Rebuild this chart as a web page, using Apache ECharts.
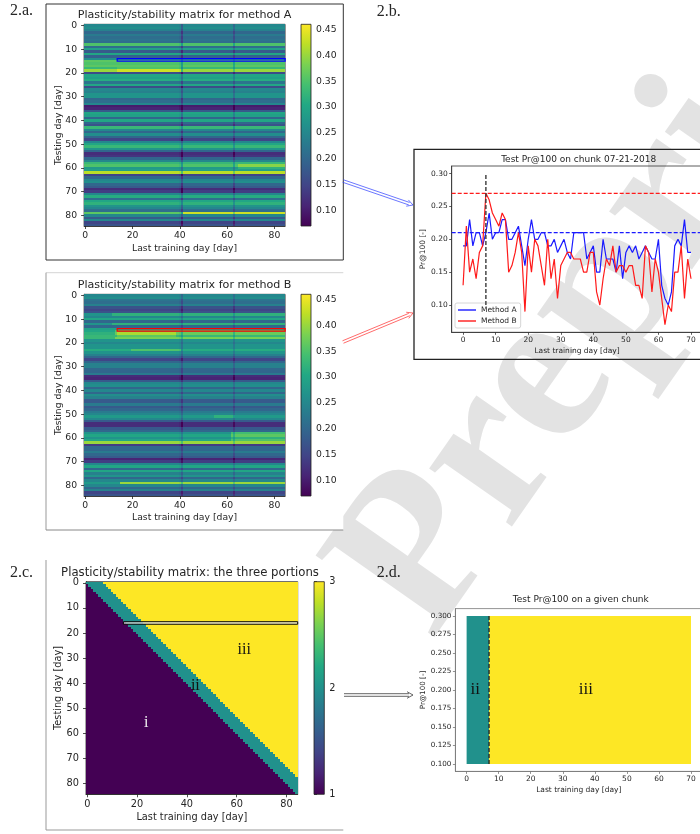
<!DOCTYPE html>
<html><head><meta charset="utf-8">
<script src="https://cdn.jsdelivr.net/npm/echarts@6/dist/echarts.min.js"></script>
<style>html,body{margin:0;padding:0;background:#fff}#c{width:700px;height:834px}</style>
</head><body><div id="c"></div>
<script>
// ---------------- DATA ----------------
const days = []; for (let i = 0; i < 85; i++) days.push(i);          // heatmap categories (days 0..84)
const cbarTicksAB = [0.10, 0.15, 0.20, 0.25, 0.30, 0.35, 0.40, 0.45];
const cbarMinAB = 0.07, cbarMaxAB = 0.46;
const cbarTicksC = [1, 2, 3];

const rowLevelA = [0.25,0.26,0.24,0.20,0.23,0.21,0.22,0.21,0.35,0.21,0.29,0.18,0.30,0.19,0.26,0.36,0.35,0.36,0.33,0.40,0.16,0.30,0.29,0.31,0.22,0.30,0.16,0.25,0.24,0.27,0.27,0.20,0.21,0.25,0.10,0.11,0.18,0.30,0.29,0.20,0.30,0.20,0.17,0.33,0.25,0.20,0.26,0.20,0.15,0.25,0.30,0.33,0.27,0.20,0.12,0.13,0.20,0.25,0.33,0.35,0.28,0.29,0.42,0.15,0.20,0.25,0.26,0.20,0.18,0.12,0.14,0.25,0.31,0.21,0.30,0.32,0.27,0.25,0.21,0.40,0.25,0.18,0.25,0.15,0.17];
const rowLevelB = [0.25,0.26,0.22,0.21,0.24,0.17,0.15,0.17,0.32,0.25,0.30,0.20,0.32,0.20,0.29,0.35,0.37,0.33,0.38,0.27,0.25,0.27,0.27,0.31,0.27,0.24,0.20,0.15,0.20,0.24,0.24,0.20,0.20,0.23,0.12,0.11,0.18,0.25,0.26,0.20,0.25,0.20,0.26,0.24,0.18,0.18,0.23,0.18,0.20,0.23,0.25,0.28,0.25,0.18,0.12,0.12,0.18,0.20,0.27,0.30,0.27,0.30,0.40,0.14,0.20,0.20,0.23,0.20,0.18,0.11,0.14,0.25,0.30,0.20,0.30,0.24,0.27,0.20,0.25,0.40,0.25,0.20,0.24,0.15,0.17];
// per training-day (column) shift (darker columns 41 and 63)
const colShiftA = [0,0,0,0,0,0,0,0,0,0,0,0,0,0,0,0,0,
                   0,0,0,0,0,0,0,0,0,0,0,0,0,0,0,0,0,
                   0,0,0,0,0,0,-0.01,-0.07,0,0,0,0,0,0,0,0,0,
                   0,0,0,0,0,0,0,0,0,0,0,0,-0.05,0,0,0,0,
                   0,0,0,0,0,0,0,0,0,0,0,0,0,0,0,0,0];
const colShiftB = [0,0,0,0,0,0,0,0,0,0,0,0,0,0,0,0,0,
                   0,0,0,0,0,0,0,0,0,0,0,0,0,0,0,0,0,
                   0,0,0,0,0,0,-0.01,-0.05,0,0,0,0,0,0,0,0,0,
                   0,0,0,0,0,0,0,0,0,0,0,0,-0.04,0,0,0,0,
                   0,0,0,0,0,0,0,0,0,0,0,0,0,0,0,0,0];
// local patches: [row, firstCol, lastCol, shift]
const patchesA = [[79,0,41,-0.04],[79,42,84,0.03],[59,65,84,0.04],[60,65,84,0.04],[19,14,40,0.03],[18,14,40,0.02]];
const patchesB = [[79,0,14,-0.12],[58,62,84,0.07],[59,62,84,0.06],[60,62,84,0.05],[61,62,84,0.05],
                  [16,14,38,0.04],[17,14,38,0.03],[51,55,63,0.04],[23,20,40,0.04],
                  [8,0,11,-0.05],[12,0,11,-0.05],[15,0,12,-0.05],[16,0,12,-0.05],[18,0,12,-0.05]];
// chunk rectangles (matplotlib data coordinates)
const chunkA = {x0: 13.5, x1: 84.5, y0: 14, y1: 15};
const chunkC = {x0: 14.5, x1: 84.5, y0: 15.5, y1: 16.5};
// three portions matrix: width of the teal band (days)
const bandWidthC = 7;
const portionLabelsC = [[23.7, 56, 'i', '#f2f2f2'], [43.4, 41, 'ii', '#111'], [63, 26.6, 'iii', '#111']];

// panel 2.b
const lastDay = [];  for (let i = 0; i <= 70; i++) lastDay.push(i);
const methodA = [0.19,0.19,0.23,0.19,0.21,0.21,0.19,0.21,0.24,0.20,0.21,0.21,0.23,0.23,0.20,0.20,0.21,0.22,0.19,0.16,0.20,0.23,0.20,0.20,0.21,0.21,0.19,0.19,0.20,0.18,0.19,0.20,0.18,0.17,0.21,0.21,0.21,0.21,0.17,0.18,0.19,0.15,0.15,0.20,0.17,0.17,0.17,0.15,0.19,0.14,0.18,0.19,0.18,0.19,0.17,0.18,0.19,0.18,0.17,0.17,0.20,0.13,0.11,0.10,0.12,0.19,0.20,0.19,0.23,0.18,0.18];
const methodB = [0.13,0.22,0.15,0.17,0.14,0.18,0.19,0.27,0.26,0.24,0.23,0.22,0.24,0.23,0.15,0.16,0.18,0.21,0.18,0.09,0.19,0.15,0.20,0.19,0.16,0.13,0.20,0.14,0.17,0.11,0.16,0.17,0.18,0.18,0.17,0.17,0.17,0.15,0.15,0.18,0.18,0.12,0.10,0.14,0.17,0.16,0.19,0.15,0.16,0.16,0.15,0.16,0.16,0.13,0.13,0.11,0.19,0.18,0.12,0.17,0.15,0.11,0.07,0.10,0.09,0.15,0.15,0.19,0.11,0.17,0.14];
const bestA = 0.21, bestB = 0.27, splitDay = 7;
const lineXTicks = [0, 10, 20, 30, 40, 50, 60, 70];
const lineYTicks = [0.10, 0.15, 0.20, 0.25, 0.30];
const lineXRange = [-3.5, 73.5], lineYRange = [0.0585, 0.3115];
const vlineRange = [0.10, 0.30];

// panel 2.d: [xStart, yStart, portion, xEnd, yEnd]
const portionsD = [[0, 0.10, 2, 7, 0.30], [7, 0.10, 3, 70, 0.30]];
const portionLabelsD = [[2.7, 0.2, 'ii'], [37.2, 0.2, 'iii']];
const dYTicks = [0.100, 0.125, 0.150, 0.175, 0.200, 0.225, 0.250, 0.275, 0.300];
const dYRange = [0.09, 0.31];

// ---------------- BUILD ----------------
const FONT = 'DejaVu Sans', SERIF = 'Liberation Serif', TXT = '#262626';
const VIRIDIS = ['#440154','#482475','#414487','#355f8d','#2a788e','#21918c','#22a884','#44bf70','#7ad151','#bddf26','#fde725'];

function buildMatrix(rowLevel, colShift, patches) {
  const out = [];
  for (let r = 0; r < 85; r++) for (let c = 0; c < 85; c++) {
    let v = rowLevel[r] + colShift[c];
    for (const p of patches) if (p[0] === r && c >= p[1] && c <= p[2]) v += p[3];
    v = Math.max(cbarMinAB, Math.min(cbarMaxAB, v));
    out.push([c, r, Math.round(v * 1000) / 1000]);
  }
  return out;
}
const heatA = buildMatrix(rowLevelA, colShiftA, patchesA);
const heatB = buildMatrix(rowLevelB, colShiftB, patchesB);
const heatC = [];
for (let r = 0; r < 85; r++) for (let c = 0; c < 85; c++) {
  heatC.push([c, r, c < r ? 1 : (c - r < bandWidthC ? 2 : 3)]);
}

const every = n => (i => i % n === 0);
function heatX(g, fs, gap) {
  return {type:'category', gridIndex:g, data:days, position:'bottom',
    axisLine:{show:true, lineStyle:{color:'#222', width:0.8}},
    axisTick:{show:true, alignWithLabel:true, interval:every(20), length:3, lineStyle:{color:'#222', width:0.8}},
    axisLabel:{interval:every(20), margin:5, fontSize:fs, color:TXT, fontFamily:FONT},
    splitLine:{show:false}, name:'Last training day [day]', nameLocation:'middle', nameGap:gap, nameMoveOverlap:false,
    nameTextStyle:{fontSize:fs, color:TXT, fontFamily:FONT}};
}
function heatY(g, fs, gap) {
  return {type:'category', gridIndex:g, data:days, inverse:true,
    axisLine:{show:true, lineStyle:{color:'#222', width:0.8}},
    axisTick:{show:true, alignWithLabel:true, interval:every(10), length:3, lineStyle:{color:'#222', width:0.8}},
    axisLabel:{interval:every(10), margin:7, fontSize:fs, color:TXT, fontFamily:FONT},
    splitLine:{show:false}, name:'Testing day [day]', nameLocation:'middle', nameGap:gap, nameMoveOverlap:false,
    nameTextStyle:{fontSize:fs, color:TXT, fontFamily:FONT}};
}
function cbarX(g) { return {type:'value', gridIndex:g, min:0, max:1, show:false}; }
function cbarY(g, mn, mx, ticks, fmt, fs) {
  return {type:'value', gridIndex:g, min:mn, max:mx, position:'right',
    axisLine:{show:false}, splitLine:{show:false},
    axisTick:{show:true, length:3, customValues:ticks, lineStyle:{color:'#222', width:0.8}},
    axisLabel:{customValues:ticks, formatter:fmt, margin:5, fontSize:fs, color:TXT, fontFamily:FONT}};
}
function cbarSeries(g, mn, mx) {
  return {type:'custom', xAxisIndex:g, yAxisIndex:g, data:[[0, mn, 1, mx]], encode:{x:[0,2], y:[1,3]}, silent:true,
    renderItem:(p, api) => {
      const a = api.coord([api.value(0), api.value(3)]), b = api.coord([api.value(2), api.value(1)]);
      const stops = VIRIDIS.map((c, i) => ({offset: i / (VIRIDIS.length - 1), color: c}));
      return {type:'rect', shape:{x:a[0], y:a[1], width:b[0]-a[0], height:b[1]-a[1]},
        style:{fill:new echarts.graphic.LinearGradient(0, 1, 0, 0, stops), stroke:'#222', lineWidth:0.8}};
    }};
}
function cellMapper(api) {
  const a = api.coord([0, 0]), b = api.coord([1, 1]);
  return (x, y) => [a[0] + x * (b[0] - a[0]), a[1] + y * (b[1] - a[1])];
}
function chunkSeries(g, spec, stroke, fill, lw) {
  return {type:'custom', xAxisIndex:g, yAxisIndex:g, data:[[0, 0]], silent:true, z:5,
    renderItem:(p, api) => {
      const m = cellMapper(api), p0 = m(spec.x0, spec.y0), p1 = m(spec.x1, spec.y1);
      return {type:'rect', shape:{x:Math.min(p0[0],p1[0]), y:Math.min(p0[1],p1[1]),
        width:Math.abs(p1[0]-p0[0]), height:Math.abs(p1[1]-p0[1])}, style:{fill:fill, stroke:stroke, lineWidth:lw}};
    }};
}
// matrix cells drawn through the category axes; edges snapped to whole pixels (no seams)
function heatSeries(g, data) {
  return {type:'custom', xAxisIndex:g, yAxisIndex:g, data:data, encode:{x:0, y:1}, progressive:0, silent:true,
    renderItem:(p, api) => {
      const q = api.coord([api.value(0), api.value(1)]), s = api.size([1, 1]);
      const x0 = Math.round(q[0] - s[0] / 2), x1 = Math.round(q[0] + s[0] / 2);
      const y0 = Math.round(q[1] - s[1] / 2), y1 = Math.round(q[1] + s[1] / 2);
      return {type:'rect', shape:{x:x0, y:y0, width:x1 - x0, height:y1 - y0},
        style:{fill:api.visual('color'), stroke:null}};
    }};
}
function valAxis(g, rng, ticks, fmt, name, gap, fs, frame, pos) {
  return {type:'value', gridIndex:g, min:rng[0], max:rng[1], position:pos,
    axisLine:{show:true, onZero:false, lineStyle:{color:frame, width:0.8}},
    axisTick:{show:true, length:2.5, customValues:ticks, lineStyle:{color:frame, width:0.8}},
    axisLabel:{customValues:ticks, formatter:fmt, margin:4, fontSize:fs, color:TXT, fontFamily:FONT},
    splitLine:{show:false}, name:name, nameLocation:'middle', nameGap:gap, nameMoveOverlap:false,
    nameTextStyle:{fontSize:fs, color:TXT, fontFamily:FONT}};
}
const f2 = v => v.toFixed(2), f3 = v => v.toFixed(3), f0 = v => String(Math.round(v));

function doubleArrow(x1, y1, x2, y2, color) {
  const dx = x2 - x1, dy = y2 - y1, L = Math.hypot(dx, dy), ux = dx / L, uy = dy / L, nx = -uy, ny = ux;
  const g = 1.3, head = 6, hw = 3.3, bx = x2 - ux * 4, by = y2 - uy * 4;
  const st = {stroke:color, lineWidth:0.7, fill:null};
  return [
    {type:'line', shape:{x1:x1+nx*g, y1:y1+ny*g, x2:bx+nx*g, y2:by+ny*g}, style:st, z:20},
    {type:'line', shape:{x1:x1-nx*g, y1:y1-ny*g, x2:bx-nx*g, y2:by-ny*g}, style:st, z:20},
    {type:'polyline', shape:{points:[[x2-ux*head+nx*hw, y2-uy*head+ny*hw],[x2,y2],[x2-ux*head-nx*hw, y2-uy*head-ny*hw]]}, style:st, z:20}
  ];
}
function label(x, y, text, font, align) {
  return {type:'text', x:x, y:y, z:20, style:{text:text, font:font, fill:TXT, align:align || 'center', verticalAlign:'middle'}};
}

const graphics = [
  {type:'text', x:615, y:280, rotation:55 * Math.PI / 180, z:-3,
    style:{text:'Preprint', font:'bold 220px "' + SERIF + '"', fill:'#e3e3e3', align:'center', verticalAlign:'middle'}},
  {type:'rect', shape:{x:46, y:4, width:297.3, height:256}, style:{fill:'#fff', stroke:'#333', lineWidth:1}, z:-2},
  {type:'rect', shape:{x:46, y:272.7, width:297.3, height:257.3}, style:{fill:'#fff'}, z:-2},
  {type:'line', shape:{x1:46, y1:272.7, x2:343.3, y2:272.7}, style:{stroke:'#d4d4d4', lineWidth:1}, z:-1},
  {type:'line', shape:{x1:46, y1:272.7, x2:46, y2:530}, style:{stroke:'#999', lineWidth:1}, z:-1},
  {type:'line', shape:{x1:46, y1:530, x2:343.3, y2:530}, style:{stroke:'#888', lineWidth:1}, z:-1},
  {type:'rect', shape:{x:46, y:560, width:297.3, height:270}, style:{fill:'#fff'}, z:-2},
  {type:'line', shape:{x1:46, y1:560, x2:46, y2:830}, style:{stroke:'#999', lineWidth:1}, z:-1},
  {type:'line', shape:{x1:46, y1:830, x2:343.3, y2:830}, style:{stroke:'#999', lineWidth:1}, z:-1},
  {type:'rect', shape:{x:414, y:149.3, width:300, height:210}, style:{fill:null, stroke:'#222', lineWidth:1.3}, z:-1},
  label(10, 11, '2.a.', '16px "' + SERIF + '"', 'left'),
  label(376.7, 11.7, '2.b.', '16px "' + SERIF + '"', 'left'),
  label(10, 572.7, '2.c.', '16px "' + SERIF + '"', 'left'),
  label(376.7, 573, '2.d.', '16px "' + SERIF + '"', 'left'),
  label(184.6, 15, 'Plasticity/stability matrix for method A', '11.1px "' + FONT + '"'),
  label(184.6, 285, 'Plasticity/stability matrix for method B', '11.1px "' + FONT + '"'),
  label(190, 572.7, 'Plasticity/stability matrix: the three portions', '11.7px "' + FONT + '"'),
  label(578.7, 159.3, 'Test Pr@100 on chunk 07-21-2018', '9px "' + FONT + '"'),
  label(580.8, 600, 'Test Pr@100 on a given chunk', '9px "' + FONT + '"')
].concat(doubleArrow(343, 181, 413, 205, '#2b3cff'))
 .concat(doubleArrow(343, 342, 413, 313, '#ff2b2b'))
 .concat(doubleArrow(344, 695, 413, 695, '#222'));

const noOB = {outerBoundsMode:'none', containLabel:false};
const option = {
  animation:false,
  backgroundColor:'#fff',
  graphic:{elements:graphics},
  grid:[
    Object.assign({left:84.1, top:24.3, width:201, height:201.7, show:true, borderColor:'#222', borderWidth:0.8}, noOB),
    Object.assign({left:301, top:24.3, width:10, height:201.7}, noOB),
    Object.assign({left:84.1, top:294.3, width:201, height:201.7, show:true, borderColor:'#222', borderWidth:0.8}, noOB),
    Object.assign({left:301, top:294.3, width:10, height:201.7}, noOB),
    Object.assign({left:451.7, top:166, width:250.7, height:166.3, show:true, borderColor:'#333', borderWidth:0.8}, noOB),
    Object.assign({left:86, top:581.7, width:211.7, height:212.6, show:true, borderColor:'#222', borderWidth:0.8}, noOB),
    Object.assign({left:314, top:581.7, width:10.3, height:212.6}, noOB),
    Object.assign({left:455.4, top:608.6, width:246.8, height:162.8, show:true, borderColor:'#777', borderWidth:0.8}, noOB)
  ],
  xAxis:[
    heatX(0, 9.25, 18), cbarX(1), heatX(2, 9.25, 17), cbarX(3),
    valAxis(4, lineXRange, lineXTicks, f0, 'Last training day [day]', 15, 7.5, '#333', 'bottom'),
    heatX(5, 9.75, 18), cbarX(6),
    valAxis(7, lineXRange, lineXTicks, f0, 'Last training day [day]', 15, 7.5, '#777', 'bottom')
  ],
  yAxis:[
    heatY(0, 9.25, 21), cbarY(1, cbarMinAB, cbarMaxAB, cbarTicksAB, f2, 9.25),
    heatY(2, 9.25, 21), cbarY(3, cbarMinAB, cbarMaxAB, cbarTicksAB, f2, 9.25),
    valAxis(4, lineYRange, lineYTicks, f2, 'Pr@100 [-]', 25, 7.5, '#333', 'left'),
    heatY(5, 9.75, 23), cbarY(6, 1, 3, cbarTicksC, f0, 9.75),
    valAxis(7, dYRange, dYTicks, f3, 'Pr@100 [-]', 29, 7.2, '#777', 'left')
  ],
  visualMap:[
    {type:'continuous', show:false, min:cbarMinAB, max:cbarMaxAB, dimension:2, seriesIndex:[0, 3], inRange:{color:VIRIDIS}},
    {type:'continuous', show:false, min:1, max:3, dimension:2, seriesIndex:[11, 15], inRange:{color:VIRIDIS}}
  ],
  legend:{data:[{name:'Method A', icon:'rect'}, {name:'Method B', icon:'rect'}], left:455, top:303, orient:'vertical',
    itemWidth:18, itemHeight:1.4, itemGap:3, padding:[3, 4, 3, 3], borderColor:'#ccc', borderWidth:0.8, borderRadius:2,
    backgroundColor:'rgba(255,255,255,0.8)', textStyle:{fontSize:7.5, color:TXT, fontFamily:FONT}, selectedMode:false},
  series:[
    heatSeries(0, heatA),                                   // 0
    chunkSeries(0, chunkA, '#0000ff', null, 1.3),           // 1
    cbarSeries(1, cbarMinAB, cbarMaxAB),                    // 2
    heatSeries(2, heatB),                                   // 3
    chunkSeries(2, chunkA, '#ff0000', null, 1.3),           // 4
    cbarSeries(3, cbarMinAB, cbarMaxAB),                    // 5
    {type:'line', name:'Method A', xAxisIndex:4, yAxisIndex:4, showSymbol:false, z:4,
      data:lastDay.map((d, i) => [d, methodA[i]]), lineStyle:{color:'#1a1aff', width:1.2}, itemStyle:{color:'#1a1aff'}},   // 6
    {type:'line', name:'Method B', xAxisIndex:4, yAxisIndex:4, showSymbol:false, z:5,
      data:lastDay.map((d, i) => [d, methodB[i]]), lineStyle:{color:'#ff1a1a', width:1.2}, itemStyle:{color:'#ff1a1a'}},   // 7
    {type:'line', name:'best A', xAxisIndex:4, yAxisIndex:4, showSymbol:false, z:3,
      data:[[lineXRange[0], bestA], [lineXRange[1], bestA]], lineStyle:{color:'#1a1aff', width:1.2, type:[4, 2]}},           // 8
    {type:'line', name:'best B', xAxisIndex:4, yAxisIndex:4, showSymbol:false, z:3,
      data:[[lineXRange[0], bestB], [lineXRange[1], bestB]], lineStyle:{color:'#ff1a1a', width:1.2, type:[4, 2]}},           // 9
    {type:'line', name:'split', xAxisIndex:4, yAxisIndex:4, showSymbol:false, z:6,
      data:[[splitDay, vlineRange[0]], [splitDay, vlineRange[1]]], lineStyle:{color:'#3a3a3a', width:1.4, type:[4, 2]}},   // 10
    heatSeries(5, heatC),                                   // 11
    chunkSeries(5, chunkC, '#000', 'rgba(255,255,255,0.75)', 1),  // 12
    {type:'custom', xAxisIndex:5, yAxisIndex:5, data:[[0, 0]], silent:true, z:6,                    // 13
      renderItem:(p, api) => {
        const m = cellMapper(api);
        return {type:'group', children:portionLabelsC.map(l => {
          const q = m(l[0], l[1]);
          return {type:'text', x:q[0], y:q[1], style:{text:l[2], font:'16px "' + SERIF + '"', fill:l[3], align:'center', verticalAlign:'middle'}};
        })};
      }},
    cbarSeries(6, 1, 3),                                    // 14
    {type:'custom', xAxisIndex:7, yAxisIndex:7, data:portionsD, encode:{x:[0, 3], y:[1, 4]}, silent:true,   // 15
      renderItem:(p, api) => {
        const a = api.coord([api.value(0), api.value(4)]), b = api.coord([api.value(3), api.value(1)]);
        return {type:'rect', shape:{x:a[0], y:a[1], width:b[0]-a[0], height:b[1]-a[1]}, style:{fill:api.visual('color')}};
      }},
    {type:'line', name:'splitD', xAxisIndex:7, yAxisIndex:7, showSymbol:false, z:6,
      data:[[splitDay, portionsD[0][1]], [splitDay, portionsD[0][4]]], lineStyle:{color:'#222', width:1.3, type:[4, 2]}},  // 16
    {type:'custom', xAxisIndex:7, yAxisIndex:7, data:portionLabelsD.map(l => [l[0], l[1]]), silent:true, z:7,            // 17
      renderItem:(p, api) => {
        const q = api.coord([api.value(0), api.value(1)]);
        return {type:'text', x:q[0], y:q[1], style:{text:portionLabelsD[p.dataIndex][2], font:'17px "' + SERIF + '"', fill:'#111', align:'center', verticalAlign:'middle'}};
      }}
  ]
};
const chart = echarts.init(document.getElementById('c'), null, {renderer:'canvas', width:700, height:834});
chart.setOption(option);
</script></body></html>
